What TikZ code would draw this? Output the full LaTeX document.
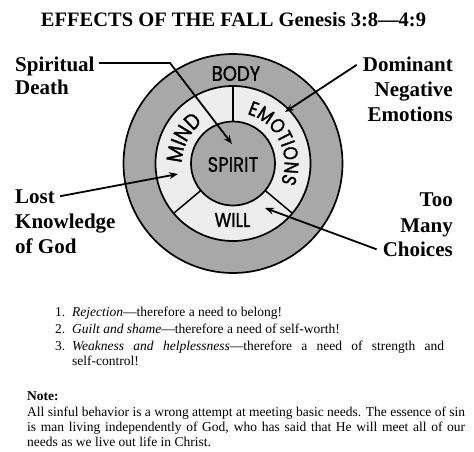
\documentclass[tikz,border=0pt]{standalone}
\usepackage{fontspec}
\setmainfont{Liberation Serif}
\newfontfamily\ringfont{Poppins}[FakeStretch=0.86, FakeBold=1.3]
\newfontfamily\spiritfont{Poppins}[FakeStretch=0.86, FakeBold=0.5]
\usetikzlibrary{decorations.text,arrows.meta,calc}
\definecolor{ringgray}{gray}{0.66}
\definecolor{ringwhite}{gray}{0.93}
\begin{document}
\begin{tikzpicture}[x=1pt,y=1pt,
  lbl/.style={font=\fontsize{21}{24}\selectfont\bfseries, inner sep=0pt},
  ringlbl/.style={font=\ringfont\fontsize{20}{20}\selectfont, inner sep=0pt},
  listtxt/.style={font=\fontsize{13.5}{16}\selectfont, inner sep=0pt, anchor=base west},
  circ/.style={draw=black, line width=1.7pt},
  divider/.style={draw=black, line width=1.5pt},
  ptr/.style={line width=1.8pt, -{Stealth[length=9pt,width=7pt]}}]
\useasboundingbox (0,0) rectangle (474,-452);
\coordinate (C) at (233,-163.5);
% circles
\path[circ, fill=ringgray] (C) circle (109.5);
\path[circ, fill=ringwhite] (C) circle (77.5);
\path[circ, fill=ringgray] (C) circle (42);
% dividers
\foreach \a in {90,220,320}
  \draw[divider] ($(C)+(\a:42)$) -- ($(C)+(\a:77.5)$);
% ring labels
\node[ringlbl, font=\ringfont\fontsize{21}{21}\selectfont] (body) at (236,-73.5) {BODY};
\node[ringlbl, font=\spiritfont\fontsize{21}{21}\selectfont] (spirit) at (233,-164.5) {SPIRIT};
\node[ringlbl] (will) at (232.5,-220) {WILL};
\path[decorate, decoration={text along path, text align=center,
  text={|\ringfont\fontsize{22}{22}\selectfont|MIND}}]
  ($(C)+(212:51)$) arc[start angle=212, end angle=94, radius=51];
\path[decorate, decoration={text along path, text align=center,
  text={|\ringfont\fontsize{20}{20}\selectfont|EMOTIONS}}]
  ($(C)+(88:51.5)$) arc[start angle=88, end angle=-36, radius=51.5];
% title
\node[font=\fontsize{20.5}{22}\selectfont\bfseries, inner sep=0pt, anchor=base] (title) at (233.5,-27) {EFFECTS OF THE FALL Genesis 3:8—4:9};
% side labels
\node[lbl, anchor=base west] (sd1) at (15,-72) {Spiritual};
\node[lbl, anchor=base west] (sd2) at (15,-95) {Death};
\node[lbl, anchor=base west] (lkg1) at (15,-203) {Lost};
\node[lbl, anchor=base west] (lkg2) at (15,-228) {Knowledge};
\node[lbl, anchor=base west] (lkg3) at (15,-253) {of God};
\node[lbl, anchor=base east] (dne1) at (453,-72) {Dominant};
\node[lbl, anchor=base east] (dne2) at (453,-96.5) {Negative};
\node[lbl, anchor=base east] (dne3) at (453,-121.5) {Emotions};
\node[lbl, anchor=base east] (tmc1) at (453,-206.5) {Too};
\node[lbl, anchor=base east] (tmc2) at (453,-232.5) {Many};
\node[lbl, anchor=base east] (tmc3) at (453,-256.5) {Choices};
% arrows
\coordinate (sdbend) at (170,-63);
\coordinate (sdtip) at (232,-144);
\coordinate (dnetip) at (285,-112);
\coordinate (lkgtip) at (178,-174);
\coordinate (tmctip) at (265,-208);
\draw[ptr] ([xshift=4pt]sd1.east |- sdbend) -- (sdbend) -- (sdtip);
\draw[ptr] ([xshift=-6pt]dne1.west) -- (dnetip);
\draw[ptr] ([xshift=5pt]lkg1.east) -- (lkgtip);
\draw[ptr] ([xshift=-6pt]tmc3.west) -- (tmctip);
% list
\node[listtxt] (n1) at (55,-316.7) {1.};
\node[listtxt] (i1) at (72,-316.7) {\textit{Rejection}—therefore a need to belong!};
\node[listtxt] (n2) at (55,-333.3) {2.};
\node[listtxt] (i2) at (72,-333.3) {\textit{Guilt and shame}—therefore a need of self-worth!};
\node[listtxt] (n3) at (55,-350) {3.};
\node[listtxt] (i3) at (72,-350) {\makebox[372pt][s]{\textit{Weakness and helplessness}—therefore a need of strength and}};
\node[listtxt] (i3b) at (72,-365.5) {self-control!};
% note
\node[listtxt] (note) at (27,-400) {\textbf{Note:}};
\node[listtxt] (p1) at (27,-416.7) {\makebox[438pt][s]{All sinful behavior is a wrong attempt at meeting basic needs. The essence of sin}};
\node[listtxt] (p2) at (27,-431.7) {\makebox[438pt][s]{is man living independently of God, who has said that He will meet all of our}};
\node[listtxt] (p3) at (27,-446.7) {needs as we live out life in Christ.};
\end{tikzpicture}
\end{document}
